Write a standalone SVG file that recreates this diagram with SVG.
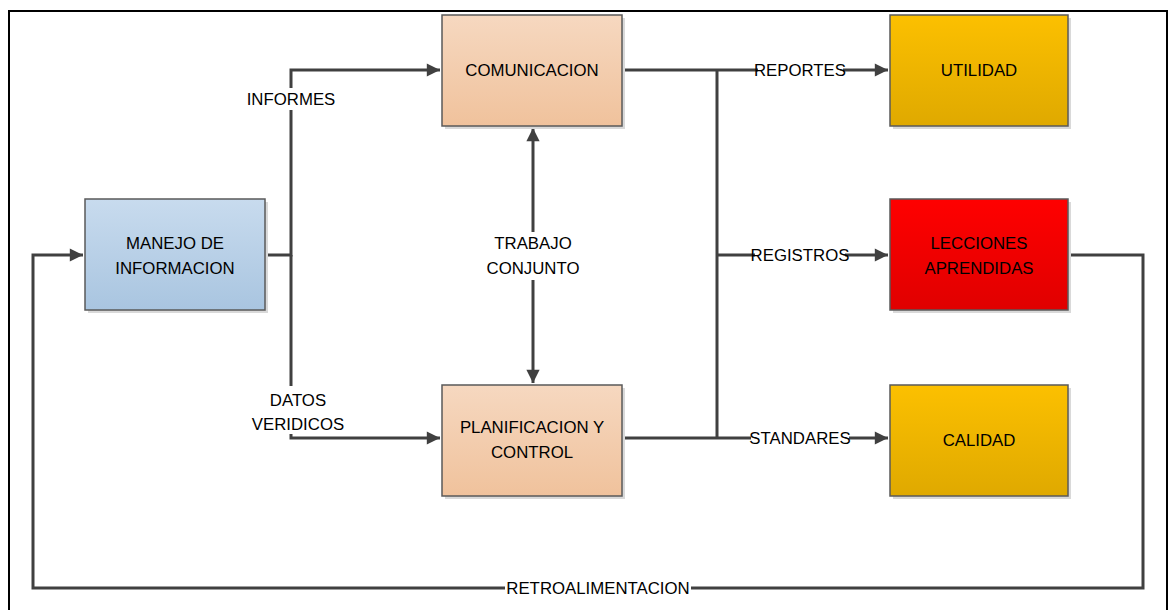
<svg xmlns="http://www.w3.org/2000/svg" width="1168" height="610" viewBox="0 0 1168 610">
<defs>
<linearGradient id="gBlue" x1="0" y1="0" x2="0" y2="1"><stop offset="0" stop-color="#c8dbee"/><stop offset="1" stop-color="#a9c5e0"/></linearGradient>
<linearGradient id="gPeach" x1="0" y1="0" x2="0" y2="1"><stop offset="0" stop-color="#f6d8c0"/><stop offset="1" stop-color="#f0c29c"/></linearGradient>
<linearGradient id="gGold" x1="0" y1="0" x2="0" y2="1"><stop offset="0" stop-color="#fcc000"/><stop offset="1" stop-color="#dfa900"/></linearGradient>
<linearGradient id="gRed" x1="0" y1="0" x2="0" y2="1"><stop offset="0" stop-color="#ff0000"/><stop offset="1" stop-color="#e00000"/></linearGradient>
<marker id="arr" viewBox="0 0 10 10" refX="10" refY="5" markerWidth="5" markerHeight="4.4" orient="auto-start-reverse" markerUnits="strokeWidth"><path d="M0,0 L10,5 L0,10 z" fill="#404040"/></marker>
</defs>
<style>
.box{stroke:#5a5a5a;stroke-width:1.5}
.sh{fill:#d9d9d9}
.t{font-family:"Liberation Sans",Arial,sans-serif;font-size:16.8px;fill:#000;text-anchor:middle}
.c{fill:none;stroke:#404040;stroke-width:3}
.bg{fill:#fff}
</style>
<rect x="9" y="11" width="1158" height="620" fill="none" stroke="#000" stroke-width="2"/>
<g id="connectors">
<path class="c" d="M265,255 H291 V70 H440" marker-end="url(#arr)"/>
<path class="c" d="M291,255 V438 H440" marker-end="url(#arr)"/>
<path class="c" d="M533,128 V383" marker-start="url(#arr)" marker-end="url(#arr)"/>
<path class="c" d="M622,70 H888" marker-end="url(#arr)"/>
<path class="c" d="M622,438 H888" marker-end="url(#arr)"/>
<path class="c" d="M717,70 V438"/>
<path class="c" d="M717,255 H888" marker-end="url(#arr)"/>
<path class="c" d="M1068,255 H1143 V588 H33 V255 H83" marker-end="url(#arr)"/>
<rect class="bg" x="246" y="88" width="90" height="22"/>
<text class="t" x="291" y="105">INFORMES</text>
<rect class="bg" x="256" y="386" width="84" height="48"/>
<text class="t" x="298" y="406">DATOS</text>
<text class="t" x="298" y="430">VERIDICOS</text>
<rect class="bg" x="488" y="232" width="90" height="48"/>
<text class="t" x="533" y="249">TRABAJO</text>
<text class="t" x="533" y="274">CONJUNTO</text>
<rect class="bg" x="758" y="60" width="85" height="20"/>
<text class="t" x="800" y="76">REPORTES</text>
<rect class="bg" x="755" y="245" width="90" height="20"/>
<text class="t" x="800" y="261">REGISTROS</text>
<rect class="bg" x="751" y="428" width="98" height="20"/>
<text class="t" x="800" y="444">STANDARES</text>
<rect class="bg" x="505" y="578" width="186" height="20"/>
<text class="t" x="598" y="594">RETROALIMENTACION</text>
</g>
<g id="manejo">
<rect class="sh" x="88" y="202" width="180" height="111"/>
<rect class="box" x="85" y="199" width="180" height="111" fill="url(#gBlue)"/>
<text class="t" x="175" y="249">MANEJO DE</text>
<text class="t" x="175" y="274">INFORMACION</text>
</g>
<g id="comunicacion">
<rect class="sh" x="445" y="18" width="180" height="111"/>
<rect class="box" x="442" y="15" width="180" height="111" fill="url(#gPeach)"/>
<text class="t" x="532" y="76">COMUNICACION</text>
</g>
<g id="planificacion">
<rect class="sh" x="445" y="388" width="180" height="111"/>
<rect class="box" x="442" y="385" width="180" height="111" fill="url(#gPeach)"/>
<text class="t" x="532" y="433">PLANIFICACION Y</text>
<text class="t" x="532" y="458">CONTROL</text>
</g>
<g id="utilidad">
<rect class="sh" x="893" y="18" width="178" height="111"/>
<rect class="box" x="890" y="15" width="178" height="111" fill="url(#gGold)"/>
<text class="t" x="979" y="76">UTILIDAD</text>
</g>
<g id="lecciones">
<rect class="sh" x="893" y="202" width="178" height="111"/>
<rect class="box" x="890" y="199" width="178" height="111" fill="url(#gRed)"/>
<text class="t" x="979" y="249">LECCIONES</text>
<text class="t" x="979" y="274">APRENDIDAS</text>
</g>
<g id="calidad">
<rect class="sh" x="893" y="388" width="178" height="111"/>
<rect class="box" x="890" y="385" width="178" height="111" fill="url(#gGold)"/>
<text class="t" x="979" y="446">CALIDAD</text>
</g>
</svg>
